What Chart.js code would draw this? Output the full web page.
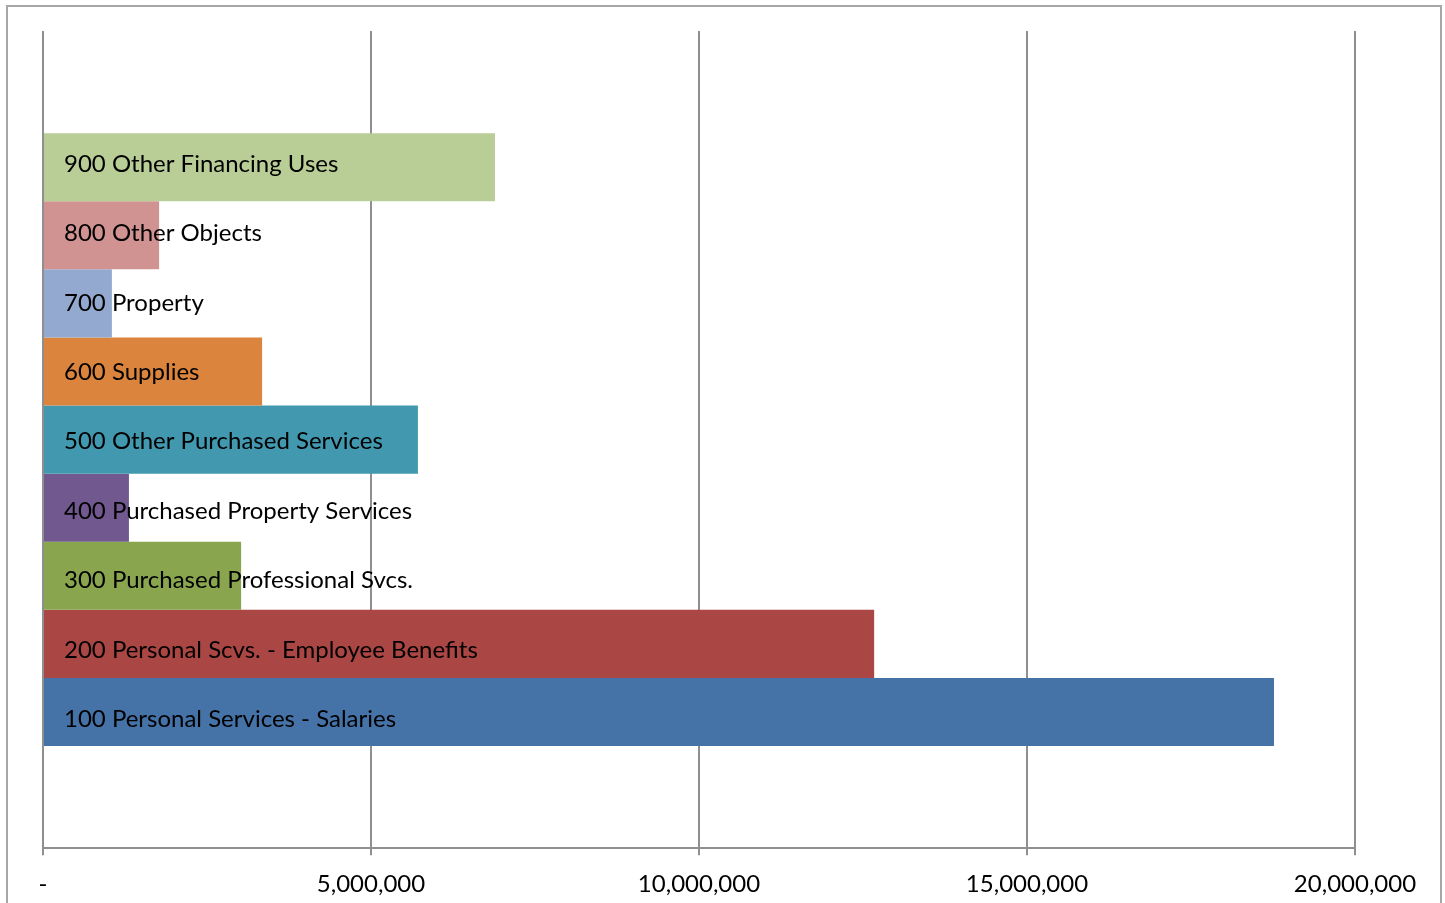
<!DOCTYPE html>
<html>
<head>
<meta charset="utf-8">
<script src="https://cdn.jsdelivr.net/npm/chart.js@4"></script>
<style>
  html, body { margin: 0; padding: 0; background: #fff; overflow: hidden; }
  #wrap { position: relative; width: 1445px; height: 903px; overflow: hidden; }
</style>
</head>
<body>
<div id="wrap"><canvas id="chart" width="1445" height="916"></canvas></div>
<script>
// ======================
// Data
// ======================
const categories = [
    "100 Personal Services - Salaries",
    "200 Personal Scvs. - Employee Benefits",
    "300 Purchased Professional Svcs.",
    "400 Purchased Property Services",
    "500 Other Purchased Services",
    "600 Supplies",
    "700 Property",
    "800 Other Objects",
    "900 Other Financing Uses"
];
const amounts = [18765000, 12670000, 3020000, 1310000, 5715000, 3340000, 1050000, 1770000, 6890000];
const barColors = ["#4572A7", "#AA4643", "#89A54E", "#71588F", "#4198AF", "#DB843D", "#93A9CF", "#D19392", "#B9CD96"];
const xTicks = [0, 5000000, 10000000, 15000000, 20000000];

const FONT = "Lato, 'Open Sans', sans-serif";
const GRID = "#8f8f8f";

// dataset 0 sits at the top, so list 900 first
const datasets = categories.map((name, i) => ({
    label: name,
    data: [amounts[i]],
    backgroundColor: barColors[i],
    borderWidth: 0,
    categoryPercentage: 0.75,
    barPercentage: 1
})).reverse();

// outer frame like the spreadsheet chart border
const framePlugin = {
    id: "frame",
    beforeDraw(chart) {
        const ctx = chart.ctx;
        ctx.save();
        ctx.strokeStyle = "#a6a6a6";
        ctx.lineWidth = 2;
        ctx.strokeRect(7, 6, 1434, 930);
        ctx.restore();
    }
};

// series names written inside the bars (spacing drifts slightly like the original)
const barLabelPlugin = {
    id: "barLabels",
    afterDatasetsDraw(chart) {
        const ctx = chart.ctx;
        ctx.save();
        ctx.font = "24px " + FONT;
        ctx.fillStyle = "#000";
        ctx.textBaseline = "alphabetic";
        chart.data.datasets.forEach((ds, i) => {
            const bar = chart.getDatasetMeta(i).data[0];
            const y = bar.y - 4 + 1.3 * i + 8.6;
            ctx.fillText(ds.label, chart.chartArea.left + 21, y);
        });
        ctx.restore();
    }
};

new Chart(document.getElementById("chart"), {
    type: "bar",
    data: { labels: [""], datasets: datasets },
    plugins: [framePlugin, barLabelPlugin],
    options: {
        indexAxis: "y",
        responsive: false,
        animation: false,
        layout: { padding: { left: 43, right: 90, top: 31, bottom: 2 } },
        plugins: {
            legend: { display: false },
            tooltip: { enabled: false }
        },
        scales: {
            y: { display: false },
            x: {
                min: 0,
                max: 20000000,
                afterBuildTicks(axis) { axis.ticks = xTicks.map(v => ({ value: v })); },
                grid: { color: GRID, lineWidth: 2, tickLength: 7, tickColor: GRID },
                border: { display: true, color: GRID, width: 2 },
                ticks: {
                    color: "#000",
                    padding: 15,
                    font: { family: FONT, size: 24 },
                    maxRotation: 0,
                    callback: v => v === 0 ? "-" : v.toLocaleString("en-US")
                }
            }
        }
    }
});
</script>
</body>
</html>
